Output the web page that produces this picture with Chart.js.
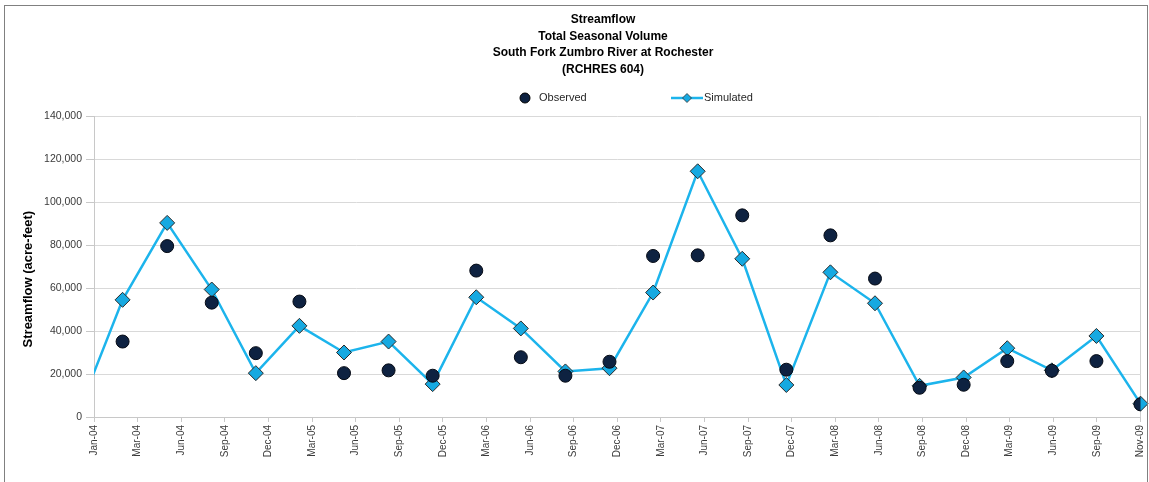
<!DOCTYPE html>
<html lang="en">
<head>
  <meta charset="UTF-8" />
  <title>Streamflow - Total Seasonal Volume</title>
  <script src="https://cdn.jsdelivr.net/npm/chart.js"></script>
  <style>
    body { margin: 0; background: #fff; }
    #wrap { position: relative; width: 1149px; height: 482px; overflow: hidden; }
    #frame { position: absolute; left: 4px; top: 5px; width: 1142px; height: 500px; border: 1px solid #808080; pointer-events: none; }
  </style>
</head>
<body>
  <div id="wrap">
    <canvas id="flowChart"></canvas>
    <div id="frame"></div>
  </div>

  <script>
    // season end dates (first one sits just left of the axis, only its line shows)
    const seasonEnds = [
      '2003-11-30',
      '2004-02-29', '2004-05-31', '2004-08-31', '2004-11-30',
      '2005-02-28', '2005-05-31', '2005-08-31', '2005-11-30',
      '2006-02-28', '2006-05-31', '2006-08-31', '2006-11-30',
      '2007-02-28', '2007-05-31', '2007-08-31', '2007-11-30',
      '2008-02-29', '2008-05-31', '2008-08-31', '2008-11-30',
      '2009-02-28', '2009-05-31', '2009-08-31', '2009-11-30'
    ];
    const observed = [
      null,
      35100, 79500, 53200, 29700,
      53700, 20400, 21700, 19200,
      68100, 27800, 19200, 25700,
      74900, 75200, 93800, 22000,
      84500, 64400, 13600, 15000,
      26000, 21500, 26000, 5900
    ];
    const simulated = [
      2400,
      54500, 90300, 59300, 20400,
      42400, 30000, 35100, 15300,
      55700, 41200, 21200, 22700,
      57900, 114300, 73600, 14900,
      67300, 52900, 14500, 18400,
      32000, 21700, 37700, 6200
    ];
    const titleLines = ['Streamflow', 'Total Seasonal Volume', 'South Fork Zumbro River at Rochester', '(RCHRES 604)'];
    const yTicks = { min: 0, max: 140000, step: 20000 };
    const xTicks = { start: '2004-01-01', stepDays: 90, count: 24 };
    const monthNames = ['Jan', 'Feb', 'Mar', 'Apr', 'May', 'Jun', 'Jul', 'Aug', 'Sep', 'Oct', 'Nov', 'Dec'];

    const DAY = 86400000;
    const t0 = Date.parse(xTicks.start + 'T00:00:00Z');
    const dayOf = s => Math.round((Date.parse(s + 'T00:00:00Z') - t0) / DAY);
    const xs = seasonEnds.map(dayOf);

    function dayLabel(v) {
      const d = new Date(t0 + v * DAY);
      return monthNames[d.getUTCMonth()] + '-' + String(d.getUTCFullYear()).slice(2);
    }

    const lineBlue = '#1cb4ec';
    const diamondBlue = '#16a9e1';
    const navy = '#0e2241';
    const xMax = xTicks.stepDays * xTicks.count;

    // Excel centres the title a bit right of the canvas middle
    const shiftTitle = {
      id: 'shiftTitle',
      afterLayout(chart) {
        const t = chart.titleBlock;
        const dx = 603 - (t.left + t.right) / 2;
        t.left += dx;
        t.right += dx;
      }
    };

    const legendRow = {
      id: 'legendRow',
      afterDraw(chart) {
        const ctx = chart.ctx;
        const y = 98;
        ctx.save();
        ctx.font = '11px "Liberation Sans", Arial, sans-serif';
        ctx.textBaseline = 'middle';
        // observed
        ctx.beginPath();
        ctx.arc(525, y, 5, 0, Math.PI * 2);
        ctx.fillStyle = navy;
        ctx.fill();
        ctx.strokeStyle = '#000';
        ctx.lineWidth = 1;
        ctx.stroke();
        ctx.fillStyle = '#262626';
        ctx.fillText('Observed', 539, y);
        // simulated
        ctx.beginPath();
        ctx.moveTo(671, y);
        ctx.lineTo(703, y);
        ctx.strokeStyle = lineBlue;
        ctx.lineWidth = 2.5;
        ctx.stroke();
        ctx.beginPath();
        ctx.moveTo(687, y - 4.5);
        ctx.lineTo(691.5, y);
        ctx.lineTo(687, y + 4.5);
        ctx.lineTo(682.5, y);
        ctx.closePath();
        ctx.fillStyle = diamondBlue;
        ctx.fill();
        ctx.strokeStyle = '#333';
        ctx.lineWidth = 0.8;
        ctx.stroke();
        ctx.fillStyle = '#262626';
        ctx.fillText('Simulated', 704, y);
        ctx.restore();
      }
    };

    new Chart(document.getElementById('flowChart'), {
      type: 'line',
      data: {
        datasets: [
          {
            label: 'Observed',
            data: xs.map((x, i) => ({ x, y: observed[i] })),
            showLine: false,
            pointStyle: 'circle',
            pointRadius: 6.5,
            pointBackgroundColor: navy,
            pointBorderColor: '#050a14',
            pointBorderWidth: 1
          },
          {
            label: 'Simulated',
            data: xs.map((x, i) => ({ x, y: simulated[i] })),
            borderColor: lineBlue,
            borderWidth: 2.5,
            tension: 0,
            pointStyle: 'rectRot',
            pointRadius: 7.5,
            pointBackgroundColor: diamondBlue,
            pointBorderColor: '#2a2a2a',
            pointBorderWidth: 1,
            clip: { left: 0, top: false, right: false, bottom: false }
          }
        ]
      },
      options: {
        responsive: true,
        maintainAspectRatio: false,
        animation: false,
        layout: { padding: { left: 14, right: 8, top: 0, bottom: 0 } },
        plugins: {
          legend: { display: false },
          tooltip: { enabled: false },
          title: {
            display: true,
            text: titleLines,
            color: '#000',
            font: { family: '"Liberation Sans", Arial, sans-serif', size: 12, weight: 'bold', lineHeight: 1.38 },
            padding: { top: 11.7, bottom: 38.1 }
          }
        },
        scales: {
          x: {
            type: 'linear',
            min: 0,
            max: xMax,
            afterFit: axis => {
              axis.height = 65;
              axis.paddingLeft = 0;
              axis.paddingRight = 0;
            },
            ticks: {
              stepSize: xTicks.stepDays,
              autoSkip: false,
              minRotation: 90,
              maxRotation: 90,
              padding: 3,
              color: '#3a3a3a',
              font: { family: '"Liberation Sans", Arial, sans-serif', size: 10 },
              callback: v => dayLabel(v)
            },
            grid: {
              drawOnChartArea: true,
              color: c => (c.tick && c.tick.value === xMax ? '#d0d0d0' : 'rgba(0,0,0,0)'),
              tickColor: '#c8c8c8',
              tickLength: 5
            },
            border: { display: true, color: '#c8c8c8' }
          },
          y: {
            min: yTicks.min,
            max: yTicks.max,
            afterFit: axis => { axis.width = 80; },
            ticks: {
              stepSize: yTicks.step,
              padding: 4,
              color: '#3a3a3a',
              font: { family: '"Liberation Sans", Arial, sans-serif', size: 10.5 },
              callback: v => v.toLocaleString('en-US')
            },
            grid: { color: '#d9d9d9', tickColor: '#c8c8c8', tickLength: 8 },
            border: { display: true, color: '#c8c8c8' },
            title: {
              display: true,
              text: 'Streamflow (acre-feet)       ',
              color: '#000',
              font: { family: '"Liberation Sans", Arial, sans-serif', size: 13, weight: 'bold', lineHeight: 1.2 },
              padding: { top: 7, bottom: 0 }
            }
          }
        }
      },
      plugins: [shiftTitle, legendRow]
    });
  </script>
</body>
</html>
